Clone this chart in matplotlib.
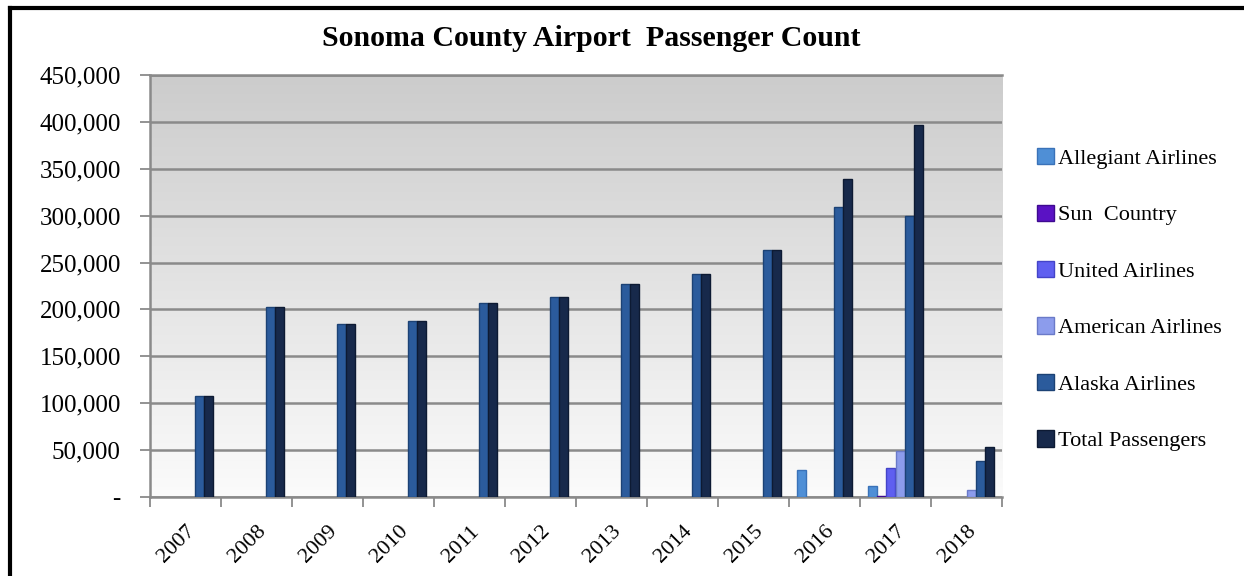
import matplotlib.pyplot as plt
import numpy as np
from matplotlib.colors import LinearSegmentedColormap
from matplotlib.patches import Patch
from matplotlib.lines import Line2D
from matplotlib.ticker import FuncFormatter

plt.rcParams['font.family'] = ['Liberation Serif', 'DejaVu Serif']

# data
years = ['2007', '2008', '2009', '2010', '2011', '2012',
         '2013', '2014', '2015', '2016', '2017', '2018']
series_names = ['Allegiant Airlines', 'Sun  Country', 'United Airlines',
                'American Airlines', 'Alaska Airlines', 'Total Passengers']
allegiant = [0, 0, 0, 0, 0, 0, 0, 0, 0, 29000, 12000, 0]
sun_country = [0, 0, 0, 0, 0, 0, 0, 0, 0, 0, 1500, 0]
united = [0, 0, 0, 0, 0, 0, 0, 0, 0, 0, 31000, 0]
american = [0, 0, 0, 0, 0, 0, 0, 0, 0, 0, 49000, 7000]
alaska = [108000, 203000, 185000, 188000, 207000, 213000,
          227000, 238000, 263000, 309000, 300000, 38000]
total = [108000, 203000, 185000, 188000, 207000, 213000,
         227000, 238000, 263000, 339000, 397000, 53000]
colors = ['#4f8fd6', '#5a12c4', '#5f5ff0', '#8c9cec', '#2b5b9c', '#17294b']
edge_colors = ['#3a72b8', '#3e0a90', '#4444c8', '#6a7ac8', '#1c4275', '#0d1a33']

fig = plt.figure(figsize=(12.44, 5.76), dpi=100)
ax = fig.add_axes([150 / 1244, 1 - 497 / 576, 852 / 1244, 422 / 576])

# gradient plot area background
grad = np.linspace(0, 1, 256).reshape(-1, 1)
bg_cmap = LinearSegmentedColormap.from_list('bg', ['#fbfbfb', '#cccccc'])
ax.imshow(grad, extent=[0, 1, 0, 1], transform=ax.transAxes, aspect='auto',
          cmap=bg_cmap, origin='lower', zorder=0)

x = np.arange(len(years))
all_series = [allegiant, sun_country, united, american, alaska, total]
width = 0.131
for i, vals in enumerate(all_series):
    vals = np.array(vals, dtype=float)
    vals[vals == 0] = np.nan  # empty cells draw nothing
    offs = (i - 2.5) * width
    ax.bar(x + offs, vals, width=width * 0.98, color=colors[i],
           edgecolor=edge_colors[i], linewidth=1.0, zorder=3)

ax.set_xlim(-0.5, len(years) - 0.5)
ax.set_ylim(0, 450000)
ax.set_yticks(np.arange(0, 450001, 50000))
ax.yaxis.set_major_formatter(FuncFormatter(lambda v, p: '-' if v == 0 else f'{int(v):,}'))
ax.grid(axis='y', color='#8a8a8a', linewidth=1.8, zorder=1)
ax.set_axisbelow(True)

ax.set_xticks(x)
ax.set_xticklabels(years, rotation=45, ha='right', rotation_mode='anchor')
ax.set_xticks(np.arange(-0.5, len(years)), minor=True)
ax.tick_params(axis='x', which='major', length=0, pad=18, labelsize=16)
ax.tick_params(axis='x', which='minor', length=7, color='#808080', width=1.2)
ax.tick_params(axis='y', length=7, color='#808080', width=1.2, pad=14, labelsize=18)

ax.spines['right'].set_visible(False)
for side in ['left', 'top', 'bottom']:
    ax.spines[side].set_color('#8a8a8a')
    ax.spines[side].set_linewidth(1.8)

fig.text(0.475, 0.934, 'Sonoma County Airport  Passenger Count', ha='center', va='center',
         fontsize=21.5, fontweight='bold')

handles = [Patch(facecolor=colors[i], edgecolor=edge_colors[i]) for i in range(6)]
fig.legend(handles, series_names, loc='upper left', bbox_to_anchor=(1026 / 1244, 1 - 137 / 576),
           frameon=False, fontsize=16, handlelength=0.75, handleheight=0.75,
           handletextpad=0.2, labelspacing=1.6, borderpad=0)

# outer frame
fig.add_artist(Line2D([10 / 1244, 10 / 1244], [0, 1 - 8 / 576], color='black', linewidth=3))
fig.add_artist(Line2D([10 / 1244, 1], [1 - 8 / 576, 1 - 8 / 576], color='black', linewidth=3))

fig.savefig('out.png', dpi=100)
